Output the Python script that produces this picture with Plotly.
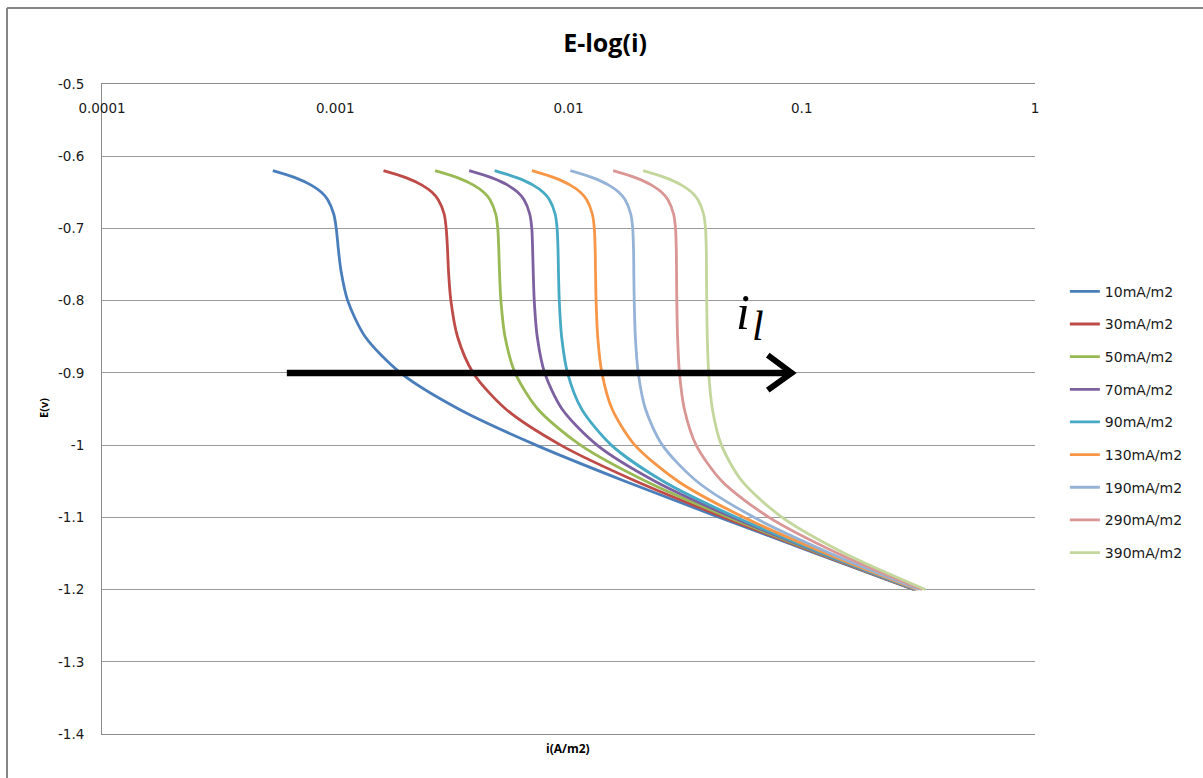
import plotly.graph_objects as go

# Potential (V) at which each polarisation curve is sampled
E_V = [-0.62, -0.63, -0.64, -0.65, -0.66, -0.68, -0.70, -0.73, -0.76,
       -0.80, -0.85, -0.90, -0.95, -1.00, -1.05, -1.10, -1.15, -1.20]

# Current density (A/m2) for each applied current, same order as E_V
I_10 = [0.00054, 0.000676, 0.000789, 0.000872, 0.000927, 0.000985, 0.00101, 0.001032, 0.00106,
        0.001131, 0.001344, 0.001904, 0.00338, 0.00726, 0.01747, 0.0444, 0.115, 0.301]
I_30 = [0.00161, 0.00202, 0.002355, 0.0026, 0.00276, 0.00293, 0.00299, 0.00303, 0.00306,
        0.003131, 0.003344, 0.003904, 0.00538, 0.00926, 0.01947, 0.0464, 0.117, 0.303]
I_50 = [0.00268, 0.00336, 0.00392, 0.00433, 0.0046, 0.004875, 0.004974, 0.005026, 0.00506,
        0.005131, 0.005344, 0.005904, 0.00738, 0.01126, 0.02147, 0.0484, 0.119, 0.305]
I_70 = [0.00375, 0.0047, 0.00549, 0.00606, 0.00644, 0.00682, 0.00696, 0.00702, 0.00706,
        0.007131, 0.007344, 0.007904, 0.00938, 0.01326, 0.02347, 0.0504, 0.121, 0.307]
I_90 = [0.004824, 0.006044, 0.007053, 0.007788, 0.008275, 0.008764, 0.008938, 0.009019, 0.009057,
        0.009131, 0.009344, 0.009904, 0.01138, 0.01526, 0.02547, 0.0524, 0.123, 0.309]
I_130 = [0.006967, 0.008728, 0.010185, 0.011246, 0.011949, 0.012654, 0.012902, 0.013013, 0.013056,
         0.013131, 0.013344, 0.013904, 0.01538, 0.01926, 0.02947, 0.0564, 0.127, 0.313]
I_190 = [0.01018, 0.012754, 0.014883, 0.016433, 0.01746, 0.018488, 0.018848, 0.019003, 0.019054,
         0.019131, 0.019344, 0.019904, 0.02138, 0.02526, 0.03547, 0.0624, 0.133, 0.319]
I_290 = [0.015536, 0.019464, 0.022713, 0.025078, 0.026645, 0.028212, 0.028758, 0.028987, 0.029051,
         0.029131, 0.029344, 0.029904, 0.03138, 0.03526, 0.04547, 0.0724, 0.143, 0.329]
I_390 = [0.020892, 0.026174, 0.030543, 0.033723, 0.03583, 0.037936, 0.038668, 0.038971, 0.039048,
         0.039131, 0.039344, 0.039904, 0.04138, 0.04526, 0.05547, 0.0824, 0.153, 0.339]

SERIES_NAMES = ["10mA/m2", "30mA/m2", "50mA/m2", "70mA/m2", "90mA/m2",
                "130mA/m2", "190mA/m2", "290mA/m2", "390mA/m2"]
SERIES_VALUES = [I_10, I_30, I_50, I_70, I_90, I_130, I_190, I_290, I_390]
SERIES_COLORS = ["#4A7EBB", "#BE4B48", "#98B954", "#7D60A0", "#46AAC5",
                 "#F79646", "#95B3D7", "#D99694", "#C3D69B"]

X_TICKS = [0.0001, 0.001, 0.01, 0.1, 1]
X_TICK_TEXT = ["0.0001", "0.001", "0.01", "0.1", "1"]
Y_TICKS = [-0.5, -0.6, -0.7, -0.8, -0.9, -1.0, -1.1, -1.2, -1.3, -1.4]
Y_TICK_TEXT = ["-0.5", "-0.6", "-0.7", "-0.8", "-0.9", "-1", "-1.1", "-1.2", "-1.3", "-1.4"]

# Limiting-current arrow: shaft and open chevron head
ARROW_SHAFT_I = [0.00062, 0.088]
ARROW_SHAFT_E = [-0.9, -0.9]
ARROW_HEAD_I = [0.0715, 0.0905, 0.0715]
ARROW_HEAD_E = [-0.8753, -0.9, -0.9238]

fig = go.Figure()

for name, vals, color in zip(SERIES_NAMES, SERIES_VALUES, SERIES_COLORS):
    fig.add_trace(go.Scatter(
        x=vals, y=E_V, mode="lines", name=name, legendgroup=name,
        line=dict(color=color, width=2.8, shape="spline", smoothing=0.8),
    ))

fig.add_trace(go.Scatter(
    x=ARROW_SHAFT_I, y=ARROW_SHAFT_E, mode="lines", showlegend=False, hoverinfo="skip",
    line=dict(color="black", width=6.5),
))
fig.add_trace(go.Scatter(
    x=ARROW_HEAD_I, y=ARROW_HEAD_E, mode="lines", showlegend=False, hoverinfo="skip",
    line=dict(color="black", width=6),
))

fig.update_layout(
    width=1203, height=778,
    margin=dict(l=102, r=168, t=84, b=44),
    paper_bgcolor="white", plot_bgcolor="white",
    font=dict(family="DejaVu Sans", size=13, color="#1a1a1a"),
    title=dict(text="<b>E-log(i)</b>", x=0.503, xanchor="center", y=1 - 43 / 778, yanchor="middle",
               font=dict(family="Open Sans", size=25, color="black")),
    showlegend=True,
    legend=dict(x=1.032, xanchor="left", y=0.705, yanchor="top",
                font=dict(family="DejaVu Sans", size=14, color="#1a1a1a"),
                tracegroupgap=11.45, bgcolor="rgba(0,0,0,0)", itemwidth=30),
    xaxis=dict(type="log", range=[-4, 0], side="top",
               tickvals=X_TICKS, ticktext=X_TICK_TEXT, ticks="",
               ticklabelposition="inside", ticklabelstandoff=19, ticklabeloverflow="allow",
               tickfont=dict(family="DejaVu Sans", size=13.5, color="#1a1a1a"),
               showgrid=False, zeroline=False,
               showline=True, linecolor="#8c8c8c", linewidth=1, mirror=True),
    yaxis=dict(range=[-1.4, -0.5], tickvals=Y_TICKS, ticktext=Y_TICK_TEXT, ticks="",
               ticklabelstandoff=14, ticklabeloverflow="allow",
               tickfont=dict(family="DejaVu Sans", size=13.5, color="#1a1a1a"),
               showgrid=True, gridcolor="#9a9a9a", gridwidth=1, zeroline=False,
               showline=True, linecolor="#8c8c8c", linewidth=1),
    annotations=[
        dict(text="<b>i(A/m2)</b>", xref="paper", yref="paper",
             x=(568 - 102) / 933, y=-(748 - 734) / 650, xanchor="center", yanchor="middle",
             showarrow=False, font=dict(family="Open Sans", size=12, color="black")),
        dict(text="<b>E(v)</b>", xref="paper", yref="paper", textangle=-90,
             x=-(102 - 43) / 933, y=(734 - 408) / 650, xanchor="center", yanchor="middle",
             showarrow=False, font=dict(family="Open Sans", size=11, color="black")),
        dict(text="<i>i</i>", xref="paper", yref="paper",
             x=(743 - 102) / 933, y=(734 - 312) / 650, xanchor="center", yanchor="middle",
             showarrow=False, font=dict(family="Liberation Serif", size=50, color="black")),
        dict(text="<i>l</i>", xref="paper", yref="paper",
             x=(758 - 102) / 933, y=(734 - 326) / 650, xanchor="center", yanchor="middle",
             showarrow=False, font=dict(family="Liberation Serif", size=42, color="black")),
    ],
    shapes=[
        dict(type="line", xref="paper", yref="paper",
             x0=-(102 - 7) / 933, x1=-(102 - 7) / 933, y0=-(778 - 734) / 650 - 0.01, y1=(734 - 8) / 650,
             line=dict(color="#868686", width=2)),
        dict(type="line", xref="paper", yref="paper",
             x0=-(102 - 7) / 933, x1=(1203 - 102) / 933 + 0.01, y0=(734 - 8) / 650, y1=(734 - 8) / 650,
             line=dict(color="#868686", width=2)),
    ],
)

fig.write_html("out.html")
